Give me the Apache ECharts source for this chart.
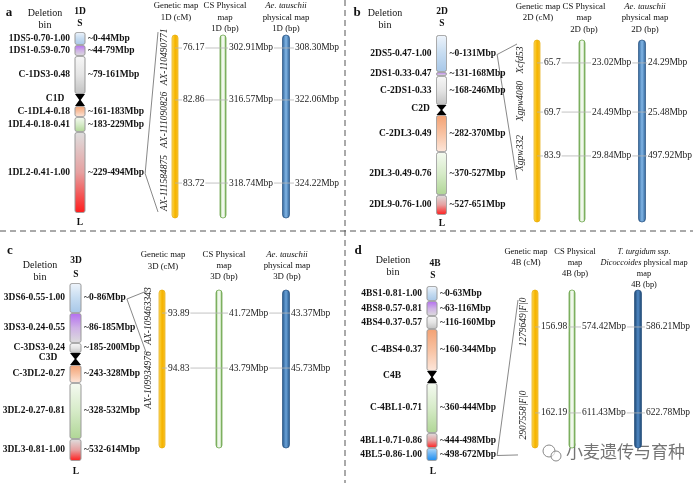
<!DOCTYPE html>
<html><head><meta charset="utf-8">
<script src="https://cdn.jsdelivr.net/npm/echarts@6/dist/echarts.min.js"></script>
<style>html,body{margin:0;padding:0;background:#fff}#c{width:693px;height:483px}</style>
</head><body><div id="c"></div><script>
// ---------------- DATA ----------------
// Panel a (1D)
const binsA = ['1DS5-0.70-1.00','1DS1-0.59-0.70','C-1DS3-0.48','C1D','C-1DL4-0.18','1DL4-0.18-0.41','1DL2-0.41-1.00'];
const rangesA = ['~0-44Mbp','~44-79Mbp','~79-161Mbp','','~161-183Mbp','~183-229Mbp','~229-494Mbp'];
const segLenA = [13,11,38,12,11,15,81];
const markersA = ['AX-110490771','AX-111090826','AX-111584875'];
const cMA = [76.17, 82.86, 83.72];
const csA = [302.91, 316.57, 318.74];
const aeA = [308.30, 322.06, 324.22];
const markerPosA = [7.1, 35.5, 80.9];
const namePosA = [12.0, 46.4, 80.9];
// Panel b (2D)
const binsB = ['2DS5-0.47-1.00','2DS1-0.33-0.47','C-2DS1-0.33','C2D','C-2DL3-0.49','2DL3-0.49-0.76','2DL9-0.76-1.00'];
const rangesB = ['~0-131Mbp','~131-168Mbp','~168-246Mbp','','~282-370Mbp','~370-527Mbp','~527-651Mbp'];
const segLenB = [37,4,29,10,37,43,20];
const markersB = ['Xcfd53','Xgpw4080','Xgpw332'];
const cMB = [65.7, 69.7, 83.9];
const csB = [23.02, 24.49, 29.84];
const aeB = [24.29, 25.48, 497.92];
const markerPosB = [12.6, 39.6, 63.7];
const namePosB = [11.0, 33.5, 62.1];
// Panel c (3D)
const binsC = ['3DS6-0.55-1.00','3DS3-0.24-0.55','C-3DS3-0.24','C3D','C-3DL2-0.27','3DL2-0.27-0.81','3DL3-0.81-1.00'];
const rangesC = ['~0-86Mbp','~86-185Mbp','~185-200Mbp','','~243-328Mbp','~328-532Mbp','~532-614Mbp'];
const segLenC = [30,30,10,12,18,56,22];
const markersC = ['AX-109463343','AX-109934976'];
const cMC = [93.89, 94.83];
const csC = [41.72, 43.79];
const aeC = [43.37, 45.73];
const markerPosC = [14.6, 49.4];
const namePosC = [16.5, 57.0];
// Panel d (4B)
const binsD = ['4BS1-0.81-1.00','4BS8-0.57-0.81','4BS4-0.37-0.57','C-4BS4-0.37','C4B','C-4BL1-0.71','4BL1-0.71-0.86','4BL5-0.86-1.00'];
const rangesD = ['~0-63Mbp','~63-116Mbp','~116-160Mbp','~160-344Mbp','','~360-444Mbp','~444-498Mbp','~498-672Mbp'];
const segLenD = [15,15,13,42,12,50,15,13];
const markersD = ['1279649|F|0','2907558|F|0'];
const cMD = [156.98, 162.19];
const csD = [574.42, 611.43];
const aeD = [586.21, 622.78];
const markerPosD = [23.4, 77.8];
const namePosD = [20.3, 79.1];

// ---------------- STYLE / LAYOUT ----------------
const segStyleA = ['blue','purple','grey','cen','orange','green','red'];
const segStyleB = ['blue','purple','grey','cen','orange','green','red'];
const segStyleC = ['blue','purple','grey','cen','orange','green','red'];
const segStyleD = ['blue','purple','grey','orange','cen','green','red','bblue'];

const SERIF = '"Liberation Serif","Times New Roman",serif';
const FB = 'bold 9.5px ' + SERIF;
const FN = '9.5px ' + SERIF;

const panels = [
  {bins:binsA, ranges:rangesA, lens:segLenA, styles:segStyleA, markers:markersA, cM:cMA, cs:csA, ae:aeA, mPos:markerPosA, nPos:namePosA, dec:2,
   L:{chrX:80, chrW:10, chrTop:32, chrBot:213, colX:[175,223,286], colW:[6,6,7], mapTop:35, mapBot:218, nameX:164, off:[7,5,8], blue:'light', cenDx:20,
      conn:{seg:6, x:158, y:[-1.6, 96.7]}}},
  {bins:binsB, ranges:rangesB, lens:segLenB, styles:segStyleB, markers:markersB, cM:cMB, cs:csB, ae:aeB, mPos:markerPosB, nPos:namePosB, dec:1,
   L:{chrX:441.5, chrW:10, chrTop:35, chrBot:215, colX:[537,582,642], colW:[6,6,7], mapTop:40, mapBot:222, nameX:520, off:[6,9,5], blue:'light', cenDx:16,
      conn:{seg:0, x:517, y:[2.2, 76.9]}}},
  {bins:binsC, ranges:rangesC, lens:segLenC, styles:segStyleC, markers:markersC, cM:cMC, cs:csC, ae:aeC, mPos:markerPosC, nPos:namePosC, dec:2,
   L:{chrX:75.5, chrW:11, chrTop:283, chrBot:461, colX:[162,219,286], colW:[6,6,7], mapTop:290, mapBot:448, nameX:148, off:[5,9,4], blue:'mid', cenDx:22,
      conn:{seg:0, x:147, y:[0.6, 41.1]}}},
  {bins:binsD, ranges:rangesD, lens:segLenD, styles:segStyleD, markers:markersD, cM:cMD, cs:csD, ae:aeD, mPos:markerPosD, nPos:namePosD, dec:2,
   L:{chrX:432, chrW:10, chrTop:286, chrBot:461, colX:[535,572,638], colW:[6,6,7], mapTop:290, mapBot:448, nameX:523, off:[5,9,7], blue:'dark', cenDx:35,
      conn:{seg:7, x:518, y:[6.3, 104.4]}}}
];

function lin(stops, horiz){
  return new echarts.graphic.LinearGradient(0,0,horiz?1:0,horiz?0:1,
    stops.map((c,i)=>({offset:i/(stops.length-1), color:c})));
}
const SEG = {
  blue:['#eef4fb','#c6dcf1','#a7c7e8'],
  purple:['#b46ef0','#cfb2e6','#dcdcdc'],
  grey:['#f7f7f7','#e4e4e4','#c2c2c2'],
  orange:['#f3a173','#f8c2a2','#fde6da'],
  green:['#f5faf1','#d6ebc8','#b0d696'],
  red:['#dedede','#e6a0a0','#ff1c1c'],
  bblue:['#b0d8f8','#62b0f4','#1a8cf0']
};
const BLUE = {light:['#2d6298','#82b6e6','#2d6298'], mid:['#23568a','#6aa2d8','#23568a'], dark:['#1b426b','#4f88c4','#1b426b']};

// ---------------- BUILD ----------------
const grids=[], xAxes=[], yAxes=[], series=[], graphics=[];
function T(x,y,text,font,align,extra){
  graphics.push({type:'text', x:x, y:y, silent:true,
    style:Object.assign({text:text, font:font, fill:'#111', align:align||'center', verticalAlign:'middle'}, extra||{})});
}

panels.forEach((p)=>{
  const L = p.L;
  const total = p.lens.reduce((a,b)=>a+b,0);
  p.total = total;
  // chromosome grid
  const gc = grids.length; p.gChr = gc;
  grids.push({left:L.chrX-L.chrW/2, top:L.chrTop, width:L.chrW, height:L.chrBot-L.chrTop});
  xAxes.push({gridIndex:gc, type:'value', min:0, max:1, show:false});
  yAxes.push({gridIndex:gc, type:'value', min:0, max:total, inverse:true, show:false});
  let acc = 0; const segData = [];
  p.lens.forEach((len,i)=>{ segData.push([acc, acc+len, i]); acc += len; });
  p.segData = segData;
  series.push({type:'custom', xAxisIndex:gc, yAxisIndex:gc, data:segData, silent:true, clip:false,
    encode:{y:[0,1]},
    renderItem:function(params, api){
      const i = api.value(2);
      const a = api.coord([0, api.value(0)]), b = api.coord([1, api.value(1)]);
      const x0=a[0], x1=b[0], y0=a[1], y1=b[1];
      const st = p.styles[i];
      const ch = [];
      const ym = (y0+y1)/2;
      if (st==='cen'){
        const xm=(x0+x1)/2;
        ch.push({type:'polygon', shape:{points:[[x0,y0],[x1,y0],[xm+0.7,ym],[x1,y1],[x0,y1],[xm-0.7,ym]]}, style:{fill:'#000'}});
        ch.push({type:'text', x:x0-L.cenDx, y:ym-1, style:{text:p.bins[i], font:FB, fill:'#111', align:'center', verticalAlign:'middle'}});
      } else {
        ch.push({type:'rect', shape:{x:x0, y:y0+0.5, width:x1-x0, height:Math.max(1,y1-y0-1), r:2},
          style:{fill:lin(SEG[st]), stroke:'#9c9c9c', lineWidth:0.6}});
        ch.push({type:'text', x:x0-5, y:ym, style:{text:p.bins[i], font:FB, fill:'#111', align:'right', verticalAlign:'middle'}});
        ch.push({type:'text', x:x1+3, y:ym, style:{text:p.ranges[i], font:FB, fill:'#111', align:'left', verticalAlign:'middle'}});
      }
      return {type:'group', children:ch};
    }});

  // map grid
  const gm = grids.length; p.gMap = gm;
  grids.push({left:L.colX[0], top:L.mapTop, width:L.colX[2]-L.colX[0], height:L.mapBot-L.mapTop});
  xAxes.push({gridIndex:gm, type:'value', min:0, max:1, show:false});
  yAxes.push({gridIndex:gm, type:'value', min:0, max:100, inverse:true, show:false});
  const frac = L.colX.map(x=>(x-L.colX[0])/(L.colX[2]-L.colX[0]));
  const fills = [
    lin(['#ffe48a','#f8bf10','#f4b000','#ffd65a'], true),
    lin(['#5c9c3a','#cfe6c2','#ffffff','#cfe6c2','#5c9c3a'], true),
    lin(BLUE[L.blue], true)
  ];
  const strokes = ['#e6a800','#5a9a38','#1f4a78'];
  series.push({type:'custom', xAxisIndex:gm, yAxisIndex:gm, silent:true, clip:false,
    data:[[frac[0],0,0],[frac[1],0,1],[frac[2],0,2]],
    renderItem:function(params, api){
      const c = api.value(2);
      const cx = api.coord([api.value(0),0])[0];
      const t = api.coord([0,0])[1], b = api.coord([0,100])[1];
      const w = L.colW[c];
      return {type:'rect', shape:{x:cx-w/2, y:t, width:w, height:b-t, r:w/2},
        style:{fill:fills[c], stroke:strokes[c], lineWidth:0.4}};
    }});
  series.push({type:'custom', xAxisIndex:gm, yAxisIndex:gm, silent:true, clip:false, z:5,
    data:p.mPos.map((v,i)=>[0,v,i]),
    renderItem:function(params, api){
      const i = api.value(2);
      const y = api.coord([0, api.value(1)])[1];
      const xs = frac.map(f=>api.coord([f,0])[0]);
      const ny = api.coord([0, p.nPos[i]])[1];
      const aeX = xs[2]+L.off[2];
      const bg = {backgroundColor:'#fff', padding:[0,1]};
      return {type:'group', children:[
        {type:'line', shape:{x1:xs[0], y1:y, x2:aeX, y2:y}, style:{stroke:'#b4b4b4', lineWidth:0.8}},
        {type:'text', x:xs[0]+L.off[0], y:y, style:Object.assign({text:p.cM[i].toFixed(p.dec), font:FN, fill:'#222', align:'left', verticalAlign:'middle'}, bg)},
        {type:'text', x:xs[1]+L.off[1], y:y, style:Object.assign({text:p.cs[i].toFixed(2)+'Mbp', font:FN, fill:'#222', align:'left', verticalAlign:'middle'}, bg)},
        {type:'text', x:aeX, y:y, style:Object.assign({text:p.ae[i].toFixed(2)+'Mbp', font:FN, fill:'#222', align:'left', verticalAlign:'middle'}, bg)},
        {type:'text', x:L.nameX, y:ny, rotation:Math.PI/2, style:{text:p.markers[i], font:'italic 9.5px '+SERIF, fill:'#222', align:'center', verticalAlign:'middle'}}
      ]};
    }});
});

// ---------------- TEXT / DECOR ----------------
const FL = 'bold 13px ' + SERIF;
const FD = '10px ' + SERIF;
T(9,13,'a',FL); T(357,13,'b',FL); T(10,251,'c',FL); T(358,251,'d',FL);
T(45,13,'Deletion',FD); T(45,25,'bin',FD);
T(385,13,'Deletion',FD); T(385,25,'bin',FD);
T(40,265,'Deletion',FD); T(40,277,'bin',FD);
T(393,260,'Deletion',FD); T(393,272,'bin',FD);
T(80,12,'1D',FB); T(80,24,'S',FB); T(80,223,'L',FB);
T(442,12,'2D',FB); T(442,24,'S',FB); T(442,224,'L',FB);
T(76,261,'3D',FB); T(76,275,'S',FB); T(76,472,'L',FB);
T(435,264,'4B',FB); T(433,276,'S',FB); T(433,472,'L',FB);
// map headers
function H(x, ys, lines, size){
  const f = (size||8.8) + 'px ' + SERIF;
  const IT = {rich:{i:{font:'italic '+f, fill:'#111'}}};
  lines.forEach((t,k)=>T(x, ys[k], t, f, 'center', IT));
}
H(176,[6,18],['Genetic map','1D (cM)']);
H(225,[6,18,29],['CS Physical','map','1D (bp)']);
H(286,[6,18,29],['{i|Ae. tauschii}','physical map','1D (bp)']);
H(538,[7,18],['Genetic map','2D (cM)']);
H(584,[7,18,30],['CS Physical','map','2D (bp)']);
H(645,[7,18,30],['{i|Ae. tauschii}','physical map','2D (bp)']);
H(163,[255,267],['Genetic map','3D (cM)']);
H(224,[255,266,277],['CS Physical','map','3D (bp)']);
H(287,[255,266,277],['{i|Ae. tauschii}','physical map','3D (bp)']);
H(526,[252,263],['Genetic map','4B (cM)'], 8.5);
H(575,[252,263,274],['CS Physical','map','4B (bp)'], 8.5);
H(644,[252,263,274,285],['{i|T. turgidum ssp.}','{i|Dicoccoides} physical map','map','4B (bp)'], 8.3);
// dashed dividers
graphics.push({type:'line', silent:true, shape:{x1:0,y1:231,x2:693,y2:231}, style:{stroke:'#555', lineWidth:1, lineDash:[6,4]}});
graphics.push({type:'line', silent:true, shape:{x1:345,y1:0,x2:345,y2:483}, style:{stroke:'#555', lineWidth:1, lineDash:[6,4]}});

const chart = echarts.init(document.getElementById('c'));
chart.setOption({animation:false, grid:grids, xAxis:xAxes, yAxis:yAxes, series:series, graphic:graphics});

// connectors from deletion-bin label to the genetic map
const ctx = document.createElement('canvas').getContext('2d');
ctx.font = FB;
const conns = [];
panels.forEach(p=>{
  const k = p.L.conn.seg;
  const s = p.segData[k];
  const pt = chart.convertToPixel({gridIndex:p.gChr}, [1, (s[0]+s[1])/2]);
  const sx = pt[0] + 3 + ctx.measureText(p.ranges[k]).width + 1;
  p.L.conn.y.forEach(v=>{
    const tp = chart.convertToPixel({gridIndex:p.gMap}, [0, v]);
    conns.push({type:'line', silent:true, shape:{x1:sx, y1:pt[1]+1, x2:p.L.conn.x, y2:tp[1]}, style:{stroke:'#555', lineWidth:0.7}});
  });
});
// watermark
const wm = [
  {type:'circle', silent:true, shape:{cx:549, cy:451, r:6}, style:{fill:'rgba(255,255,255,0.6)', stroke:'#888', lineWidth:1}},
  {type:'circle', silent:true, shape:{cx:556, cy:456, r:5}, style:{fill:'rgba(255,255,255,0.6)', stroke:'#888', lineWidth:1}},
  {type:'text', silent:true, x:566, y:452, style:{text:'小麦遗传与育种', font:'17px "Noto Sans CJK SC"', fill:'rgba(70,70,70,0.75)', stroke:'#fff', lineWidth:2, align:'left', verticalAlign:'middle'}}
];
chart.setOption({graphic:graphics.concat(conns, wm)});
</script></body></html>
